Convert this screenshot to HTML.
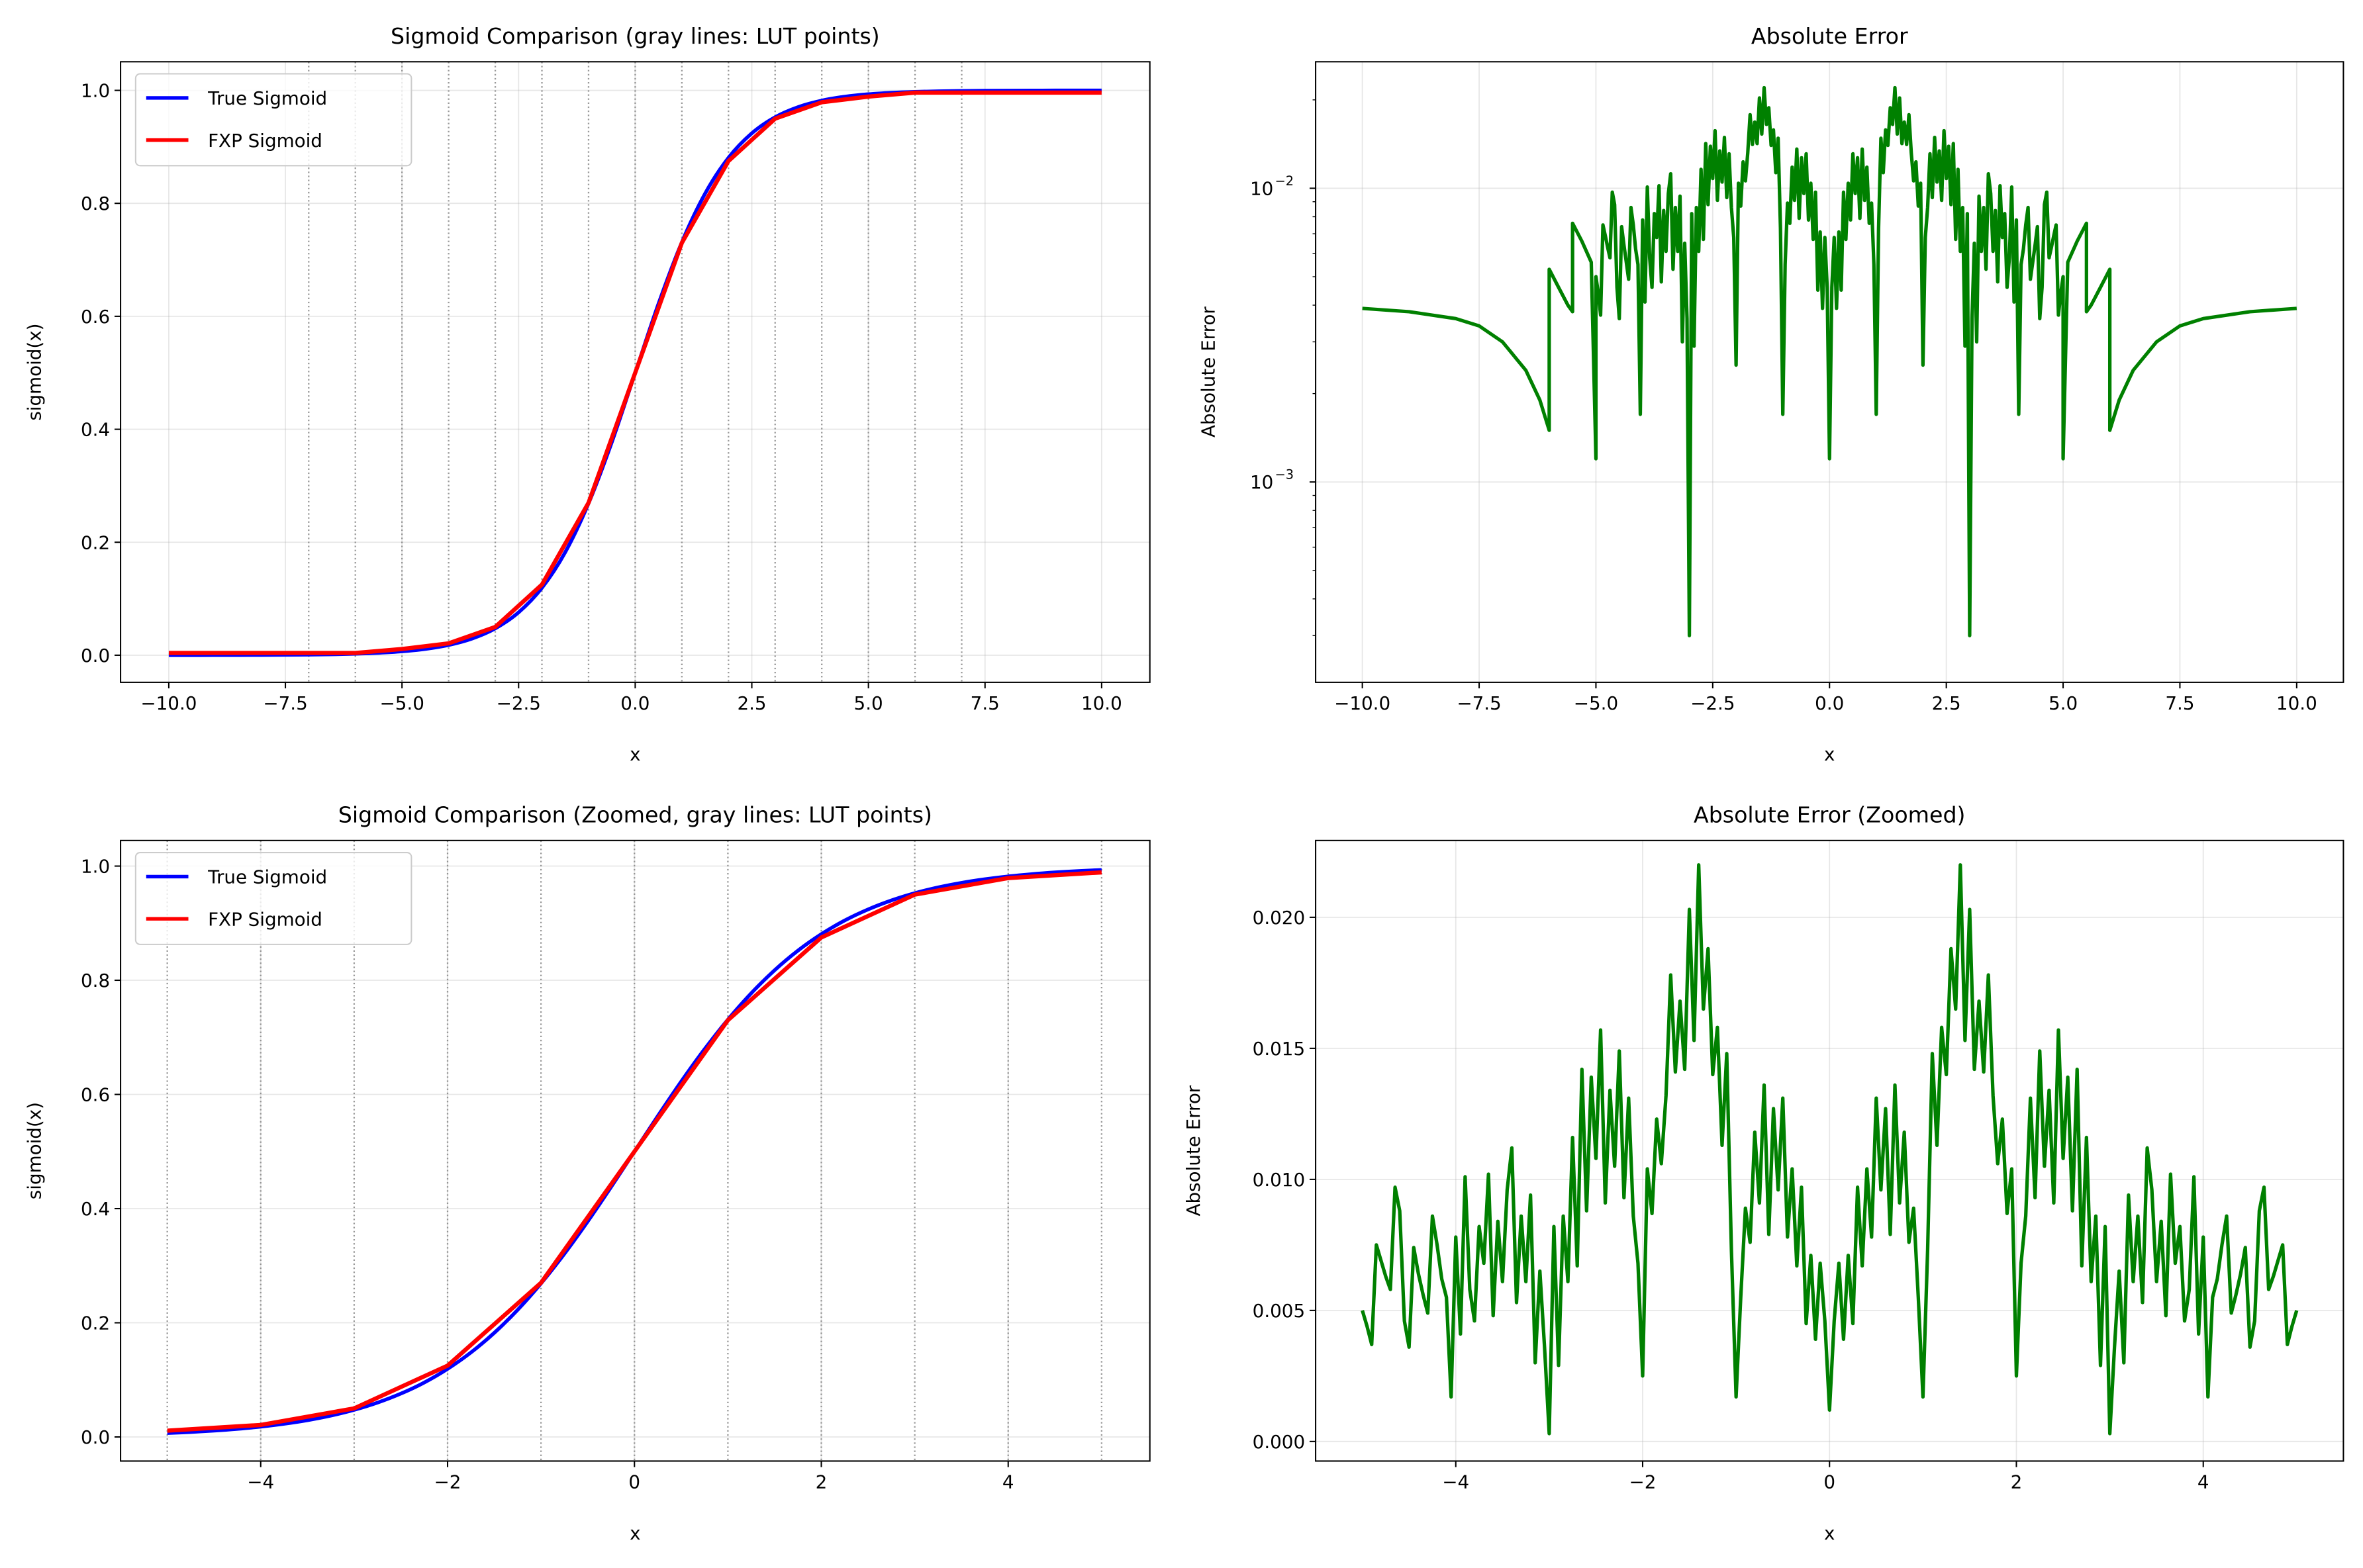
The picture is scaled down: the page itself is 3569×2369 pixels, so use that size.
<!DOCTYPE html>
<html><head><meta charset="utf-8"><style>
html,body{margin:0;padding:0;background:#fff}
svg{display:block}
text{font-family:"DejaVu Sans","Liberation Sans",sans-serif;fill:#000}
</style></head><body>
<svg id="fig" width="3569" height="2369" viewBox="0 0 1568 1041" preserveAspectRatio="none" xmlns="http://www.w3.org/2000/svg"></svg>
<script>
// ---- data ----
const sigX = [-10,-9.5,-9,-8.5,-8,-7.5,-7,-6.5,-6,-5.5,-5,-4.5,-4,-3.5,-3,-2.5,-2,-1.5,-1,-0.5,0,0.5,1,1.5,2,2.5,3,3.5,4,4.5,5,5.5,6,6.5,7,7.5,8,8.5,9,9.5,10];
const sigY = [.00005,.00007,.00012,.0002,.00034,.00055,.0009,.0015,.0025,.0041,.0067,.0110,.0180,.0293,.0474,.0759,.1192,.1824,.2689,.3775,.5,.6225,.7311,.8176,.8808,.9241,.9526,.9707,.9820,.9890,.9933,.9959,.9975,.9985,.9991,.99945,.99966,.9998,.99988,.99993,.99995];
const fxpX = [-10,-6,-5,-4,-3,-2,-1,0,1,2,3,4,5,6,10];
const fxpY = [.004,.004,.011,.021,.050,.125,.270,.5,.73,.875,.950,.979,.989,.996,.996];
const fxpZX = [-5,-4,-3,-2,-1,0,1,2,3,4,5];
const fxpZY = [.011,.021,.050,.125,.270,.5,.73,.875,.950,.979,.989];
const zsigX = [-5,-4.75,-4.5,-4.25,-4,-3.75,-3.5,-3.25,-3,-2.75,-2.5,-2.25,-2,-1.75,-1.5,-1.25,-1,-0.75,-0.5,-0.25,0,0.25,0.5,0.75,1,1.25,1.5,1.75,2,2.25,2.5,2.75,3,3.25,3.5,3.75,4,4.25,4.5,4.75,5];
const zsigY = [.0067,.0086,.0110,.0141,.0180,.0230,.0293,.0373,.0474,.0601,.0759,.0953,.1192,.1480,.1824,.2227,.2689,.3208,.3775,.4378,.5,.5622,.6225,.6792,.7311,.7773,.8176,.8520,.8808,.9047,.9241,.9399,.9526,.9627,.9707,.9770,.9820,.9859,.9890,.9914,.9933];
const lutFull = [-7,-6,-5,-4,-3,-2,-1,0,1,2,3,4,5,6,7];
const lutZoom = [-5,-4,-3,-2,-1,0,1,2,3,4,5];
const errLeft = [.0050,.0044,.0037,.0075,.0069,.0063,.0058,.0097,.0088,.0046,.0036,.0074,.0064,.0056,.0049,.0086,.0075,.0062,.0055,.0017,.0078,.0041,.0101,.0058,.0046,.0082,.0068,.0102,.0048,.0084,.0061,.0096,.0112,.0053,.0086,.0061,.0094,.0030,.0065,.0036,.0003,.0082,.0029,.0086,.0061,.0116,.0067,.0142,.0088,.0139,.0108,.0157,.0091,.0134,.0105,.0149,.0093,.0131,.0086,.0068,.0025,.0104,.0087,.0123,.0106,.0132,.0178,.0141,.0168,.0142,.0203,.0153,.0220,.0165,.0188,.0140,.0158,.0113,.0148,.0073,.0017,.0055,.0089,.0076,.0118,.0091,.0136,.0079,.0127,.0096,.0131,.0078,.0104,.0067,.0097,.0045,.0071,.0039,.0068,.0046,.0012];
const errRight = [.0046,.0068,.0039,.0071,.0045,.0097,.0067,.0104,.0078,.0131,.0096,.0127,.0079,.0136,.0091,.0118,.0076,.0089,.0055,.0017,.0073,.0148,.0113,.0158,.0140,.0188,.0165,.0220,.0153,.0203,.0142,.0168,.0141,.0178,.0132,.0106,.0123,.0087,.0104,.0025,.0068,.0086,.0131,.0093,.0149,.0105,.0134,.0091,.0157,.0108,.0139,.0088,.0142,.0067,.0116,.0061,.0086,.0029,.0082,.0003,.0036,.0065,.0030,.0094,.0061,.0086,.0053,.0112,.0096,.0061,.0084,.0048,.0102,.0068,.0082,.0046,.0058,.0101,.0041,.0078,.0017,.0055,.0062,.0075,.0086,.0049,.0056,.0064,.0074,.0036,.0046,.0088,.0097,.0058,.0063,.0069,.0075,.0037,.0044,.0050];
const tailLX = [-10,-9,-8,-7.5,-7,-6.5,-6.2,-6.0,-6.0,-5.8,-5.6,-5.5,-5.5,-5.3,-5.1,-5.0];
const tailLY = [.0039,.0038,.0036,.0034,.0030,.0024,.0019,.0015,.0053,.0046,.0040,.0038,.0076,.0066,.0056,.0012];
const tailRX = [5.0,5.1,5.3,5.5,5.5,5.6,5.8,6.0,6.0,6.2,6.5,7,7.5,8,9,10];
const tailRY = [.0012,.0056,.0066,.0076,.0038,.0040,.0046,.0053,.0015,.0019,.0024,.0030,.0034,.0036,.0038,.0039];

const NS="http://www.w3.org/2000/svg";
const svg=document.getElementById('fig');
function mk(tag,attrs,parent){const e=document.createElementNS(NS,tag);for(const k in attrs)e.setAttribute(k,attrs[k]);(parent||svg).appendChild(e);return e;}
function txt(s,attrs,parent){const e=mk('text',attrs,parent);e.textContent=s;return e;}
function fmt(v,d){let s=v.toFixed(d);return s.replace('-','\u2212');}
function smoothPath(P){
  let d='M'+P[0][0].toFixed(2)+','+P[0][1].toFixed(2);
  for(let i=0;i<P.length-1;i++){
    const p0=P[Math.max(i-1,0)],p1=P[i],p2=P[i+1],p3=P[Math.min(i+2,P.length-1)];
    const c1=[p1[0]+(p2[0]-p0[0])/6,p1[1]+(p2[1]-p0[1])/6];
    const c2=[p2[0]-(p3[0]-p1[0])/6,p2[1]-(p3[1]-p1[1])/6];
    d+='C'+c1[0].toFixed(2)+','+c1[1].toFixed(2)+' '+c2[0].toFixed(2)+','+c2[1].toFixed(2)+' '+p2[0].toFixed(2)+','+p2[1].toFixed(2);
  }
  return d;
}

function makeAxes(o){
  const g=mk('g',{});
  
  
  const sx=v=>o.x0+(v-o.xmin)/(o.xmax-o.xmin)*(o.x1-o.x0);
  let sy;
  if(o.log){sy=v=>o.y1-(Math.log10(v)-o.ymin)/(o.ymax-o.ymin)*(o.y1-o.y0);}
  else sy=v=>o.y1-(v-o.ymin)/(o.ymax-o.ymin)*(o.y1-o.y0);
  o.xt.forEach(v=>{const l=mk('line',{x1:sx(v),x2:sx(v),y1:o.y0,y2:o.y1,stroke:'#b0b0b0','stroke-opacity':0.3,'stroke-width':0.8},g);});
  o.yt.forEach(v=>{const l=mk('line',{x1:o.x0,x2:o.x1,y1:sy(v),y2:sy(v),stroke:'#b0b0b0','stroke-opacity':0.3,'stroke-width':0.8},g);});
  if(o.lut)o.lut.forEach(v=>{const l=mk('line',{x1:sx(v),x2:sx(v),y1:o.y0,y2:o.y1,stroke:'#808080','stroke-opacity':0.8,'stroke-width':1,'stroke-dasharray':'1,1.7'},g);});
  const clip='c'+o.name;
  const cp=mk('clipPath',{id:clip},g);mk('rect',{x:o.x0,y:o.y0,width:o.x1-o.x0,height:o.y1-o.y0},cp);
  const pg=mk('g',{'clip-path':'url(#'+clip+')'},g);
  o.series.forEach(s=>{
    let d;
    if(s.smooth){d=smoothPath(s.x.map((v,i)=>[sx(v),sy(s.y[i])]));}
    else d=s.x.map((v,i)=>(i?'L':'M')+sx(v).toFixed(2)+','+sy(s.y[i]).toFixed(2)).join('');
    const p=mk('path',{d:d,fill:'none',stroke:s.color,'stroke-width':s.w||2.2,'stroke-linejoin':'round'},pg);
    
    
  });
  const f=mk('rect',{x:o.x0,y:o.y0,width:o.x1-o.x0,height:o.y1-o.y0,fill:'none',stroke:'#000','stroke-width':0.9},g);
  
  o.xt.forEach((v,i)=>{mk('line',{x1:sx(v),x2:sx(v),y1:o.y1,y2:o.y1+4,stroke:'#000','stroke-width':0.9},g);
    const t=txt(o.xl[i],{x:sx(v),y:o.y1+18,'font-size':12.2,'text-anchor':'middle'},g);});
  o.yt.forEach((v,i)=>{mk('line',{x1:o.x0-4,x2:o.x0,y1:sy(v),y2:sy(v),stroke:'#000','stroke-width':0.9},g);
    const t=txt(o.yl[i],{x:o.x0-7,y:sy(v)+4.4,'font-size':12.2,'text-anchor':'end'},g);});
  if(o.log){
    for(let dec=-4;dec<=-1;dec++)for(let m=2;m<=9;m++){const v=m*Math.pow(10,dec);const lv=Math.log10(v);if(lv<o.ymin||lv>o.ymax)continue;
      mk('line',{x1:o.x0-2,x2:o.x0,y1:sy(v),y2:sy(v),stroke:'#000','stroke-width':0.6},g);}
  }
  const tt=txt(o.title,{x:(o.x0+o.x1)/2,y:o.y0-12,'font-size':14.6,'text-anchor':'middle'},g);
  
  const xl=txt('x',{x:(o.x0+o.x1)/2,y:o.y1+52,'font-size':12.2,'text-anchor':'middle'},g);
  
  const cy=(o.y0+o.y1)/2;
  const yl=txt(o.ylabel,{x:o.ylx,y:cy,'font-size':12.2,'text-anchor':'middle',transform:'rotate(-90 '+o.ylx+' '+cy+')'},g);
  
  if(o.legend){
    const lg=mk('g',{},g);
    const lx=o.x0+10,ly=o.y0+8;
    mk('rect',{x:lx,y:ly,width:183,height:61,rx:3,fill:'#fff','fill-opacity':0.8,stroke:'#ccc','stroke-width':0.9},lg);
    [['True Sigmoid','blue'],['FXP Sigmoid','red']].forEach((e,i)=>{
      const en=mk('g',{},lg);
      const yy=ly+16+i*28;
      mk('line',{x1:lx+7,x2:lx+35,y1:yy,y2:yy,stroke:e[1],'stroke-width':2.4},en);
      txt(e[0],{x:lx+48,y:yy+4.5,'font-size':12.2},en);
    });
  }
  return g;
}

const fullTicks=[-10,-7.5,-5,-2.5,0,2.5,5,7.5,10];
const fullLabels=fullTicks.map(v=>fmt(v,1));
const zTicks=[-4,-2,0,2,4];
const zLabels=zTicks.map(v=>fmt(v,0));
const sgTicks=[0,0.2,0.4,0.6,0.8,1.0];
const sgLabels=sgTicks.map(v=>v.toFixed(1));
const xFull=(a=>{const r=[];for(let i=0;i<=100;i++)r.push(-5+i*0.05);return r;})();
const xRight=(a=>{const r=[];for(let i=1;i<=100;i++)r.push(i*0.05);return r;})();
const errX=xFull.concat(xRight);
const errY=errLeft.concat(errRight);

makeAxes({name:'sigmoid-full-chart',x0:80,x1:763,y0:41,y1:453,xmin:-10-32/30.95,xmax:10+32/30.95,
  ymin:-(453-435)/375,ymax:1+(60-41)/375,xt:fullTicks,xl:fullLabels,yt:sgTicks,yl:sgLabels,lut:lutFull,
  title:'Sigmoid Comparison (gray lines: LUT points)',ylabel:'sigmoid(x)',ylx:27,legend:true,
  series:[{x:sigX,y:sigY,color:'blue',name:'true-sigmoid-line',smooth:true,w:2.4},{x:fxpX,y:fxpY,color:'red',name:'fxp-sigmoid-line',w:2.8}]});
makeAxes({name:'abs-error-log-chart',x0:873,x1:1555,y0:41,y1:453,xmin:-10-31/31,xmax:10+31/31,log:true,
  ymin:-3-133/195,ymax:-2+84/195,xt:fullTicks,xl:fullLabels,yt:[0.001,0.01],yl:['',''],
  title:'Absolute Error',ylabel:'Absolute Error',ylx:806,
  series:[{x:tailLX.concat(errX,tailRX),y:tailLY.concat(errY,tailRY),color:'green',name:'abs-error-line',w:2.3}]});
[[125,'-2'],[320,'-3']].forEach(a=>{const t=txt('10',{x:845,y:a[0]+4.4,'font-size':12.2,'text-anchor':'end'});
  
  const s=txt('\u2212'+a[1].slice(1),{x:846,y:a[0]-2,'font-size':8.5});
  });
makeAxes({name:'sigmoid-zoom-chart',x0:80,x1:763,y0:558,y1:970,xmin:-5-31/62,xmax:5+32/62,
  ymin:-(970-954)/379,ymax:1+(575-558)/379,xt:zTicks,xl:zLabels,yt:sgTicks,yl:sgLabels,lut:lutZoom,
  title:'Sigmoid Comparison (Zoomed, gray lines: LUT points)',ylabel:'sigmoid(x)',ylx:27,legend:true,
  series:[{x:zsigX,y:zsigY,color:'blue',name:'true-sigmoid-line',smooth:true,w:2.4},{x:fxpZX,y:fxpZY,color:'red',name:'fxp-sigmoid-line',w:2.8}]});
makeAxes({name:'abs-error-zoom-chart',x0:873,x1:1555,y0:558,y1:970,xmin:-5-31/62,xmax:5+31/62,
  ymin:-0.02*(970-957)/348,ymax:0.02+0.02*(609-558)/348,xt:zTicks,xl:zLabels,
  yt:[0,0.005,0.01,0.015,0.02],yl:['0.000','0.005','0.010','0.015','0.020'],
  title:'Absolute Error (Zoomed)',ylabel:'Absolute Error',ylx:796,
  series:[{x:errX,y:errY,color:'green',name:'abs-error-line',w:2.3}]});
</script>
</body></html>
